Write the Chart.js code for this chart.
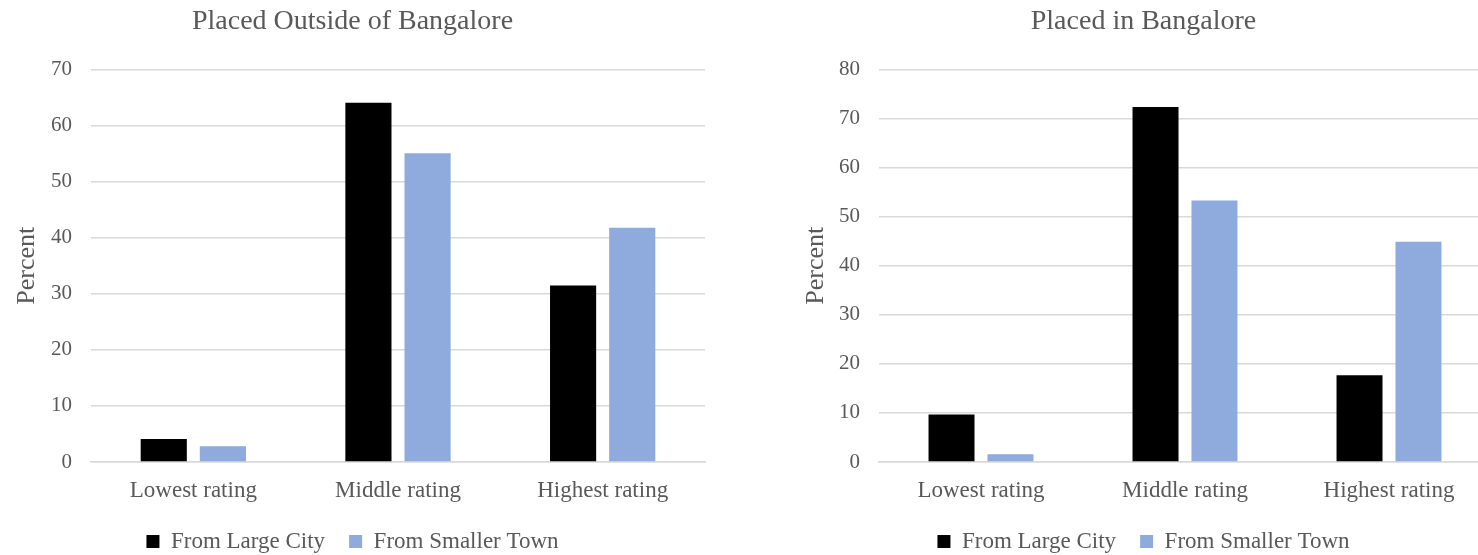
<!DOCTYPE html>
<html>
<head>
<meta charset="utf-8">
<script src="https://cdn.jsdelivr.net/npm/chart.js@4/dist/chart.umd.min.js"></script>
<style>
  html, body { margin: 0; padding: 0; background: #fff; overflow: hidden; }
  body { width: 1478px; height: 555px; position: relative; }
  .panel { position: absolute; top: 0; height: 563px; }
  #outside { left: 0; width: 710px; }
  #inside { left: 796px; width: 700px; }
</style>
</head>
<body>
<div class="panel" id="outside"><canvas id="cOutside"></canvas></div>
<div class="panel" id="inside"><canvas id="cInside"></canvas></div>
<script>
// Rating categories shared by both panels
const categories = ['Lowest rating', 'Middle rating', 'Highest rating'];
const seriesNames = ['From Large City', 'From Smaller Town'];

// Placed outside of Bangalore (percent)
const outsideLargeCity = [4.1, 64.1, 31.5];
const outsideSmallerTown = [2.8, 55.1, 41.8];

// Placed in Bangalore (percent)
const insideLargeCity = [9.7, 72.4, 17.7];
const insideSmallerTown = [1.6, 53.3, 44.9];

const outsideMax = 70;
const insideMax = 80;
const tickStep = 10;

const FONT = "'Liberation Serif', 'Times New Roman', serif";
const TEXT = '#595959';
const GRID = '#d9d9d9';
const BLACK = '#000000';
const BLUE = '#8faadc';

function makeChart(id, title, large, small, yMax, axisWidth, titlePadTop) {
  return new Chart(document.getElementById(id), {
    type: 'bar',
    data: {
      labels: categories,
      datasets: [
        { label: seriesNames[0], data: large, backgroundColor: BLACK },
        { label: seriesNames[1], data: small, backgroundColor: BLUE }
      ]
    },
    options: {
      responsive: true,
      maintainAspectRatio: false,
      animation: false,
      categoryPercentage: 0.578,
      barPercentage: 0.78,
      layout: { padding: { left: 0, right: 5, top: 0, bottom: 0 } },
      plugins: {
        title: {
          display: true,
          text: title,
          color: TEXT,
          font: { family: FONT, size: 28, weight: 'normal' },
          padding: { top: 5, bottom: 31 }
        },
        legend: {
          position: 'bottom',
          labels: {
            color: TEXT,
            font: { family: FONT, size: 23 },
            boxWidth: 13,
            boxHeight: 13,
            padding: 24
          }
        },
        tooltip: { enabled: false }
      },
      scales: {
        x: {
          afterFit: (s) => { s.height = 44; },
          grid: { display: false, drawTicks: false },
          border: { display: true, color: GRID, width: 1.5 },
          ticks: { color: TEXT, font: { family: FONT, size: 23 }, padding: 15 }
        },
        y: {
          min: 0,
          max: yMax,
          afterFit: (s) => { s.width = axisWidth; },
          grid: { color: GRID, lineWidth: 1.5, drawTicks: false },
          border: { display: false },
          ticks: { stepSize: tickStep, color: TEXT, font: { family: FONT, size: 21 }, padding: 19 },
          title: {
            display: true,
            text: 'Percent',
            color: TEXT,
            font: { family: FONT, size: 26 },
            padding: { top: titlePadTop, bottom: 0 }
          }
        }
      }
    }
  });
}

makeChart('cOutside', 'Placed Outside of Bangalore', outsideLargeCity, outsideSmallerTown, outsideMax, 91, 12);
makeChart('cInside', 'Placed in Bangalore', insideLargeCity, insideSmallerTown, insideMax, 83, 5);
</script>
</body>
</html>
